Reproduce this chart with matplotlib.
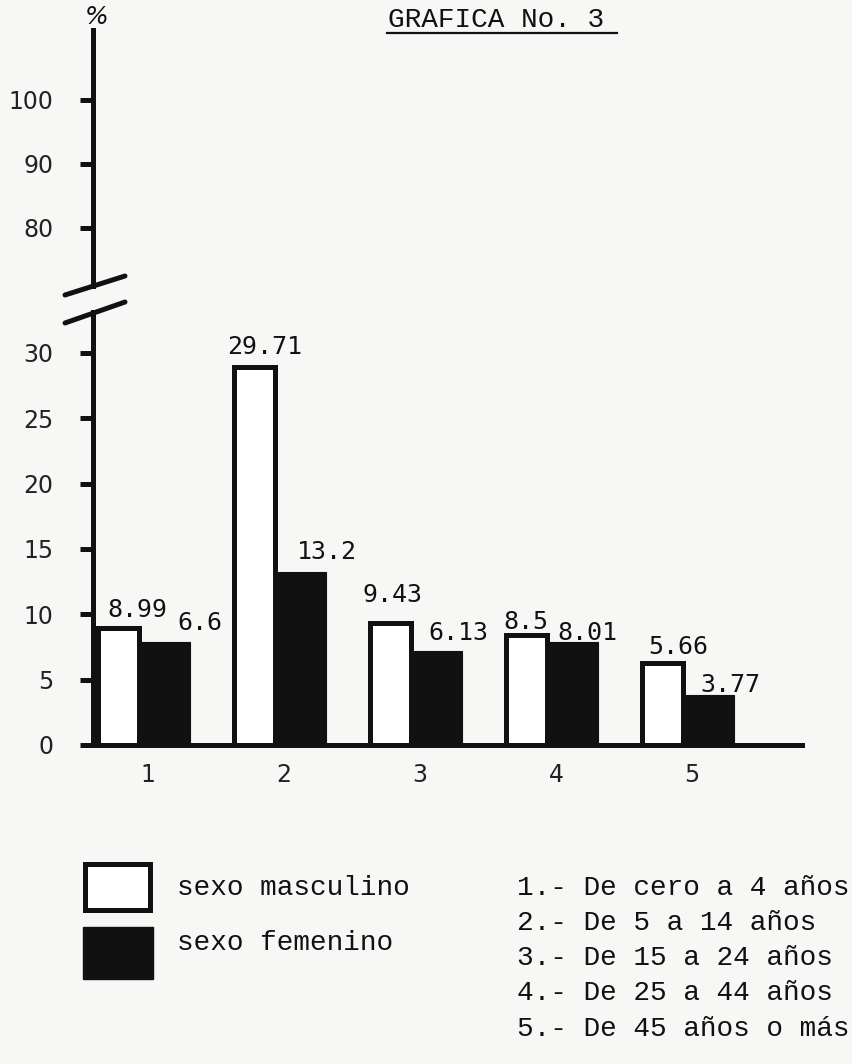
import matplotlib
matplotlib.use("Agg")
import matplotlib.pyplot as plt
from matplotlib.patches import Rectangle
from matplotlib.lines import Line2D

# bar heights as drawn on the chart, and the numbers typed above them
groups = [1, 2, 3, 4, 5]
masc = [8.99, 28.9, 9.37, 8.38, 6.31]
fem = [7.9, 13.2, 7.2, 7.9, 3.8]
masc_labels = ["8.99", "29.71", "9.43", "8.5", "5.66"]
fem_labels = ["6.6", "13.2", "6.13", "8.01", "3.77"]
low_ticks = [0, 5, 10, 15, 20, 25, 30]
high_ticks = [80, 90, 100]
legend_names = ["sexo masculino", "sexo femenino"]
age_groups = ["De cero a 4 años", "De 5 a 14 años", "De 15 a 24 años",
              "De 25 a 44 años", "De 45 años o más"]

# where the typed value sits relative to its bar (x in group units, y in %)
masc_off = [(-0.253, 1.34), (-0.371, 1.55), (-0.378, 2.11), (-0.341, 1.03), (-0.276, 1.19)]
fem_off = [(0.262, 1.43), (0.144, 1.57), (0.107, 1.37), (0.055, 0.67), (0.107, 0.79)]

W, H = 853, 1064
ink = "#111111"
paper = "#f7f7f5"
typewriter = "Liberation Mono"


def fx(px):
    return px / W


def fy(py):
    return 1 - py / H


fig = plt.figure(figsize=(W / 100, H / 100), dpi=100)
fig.patch.set_facecolor(paper)

# lower part of the broken axis: 0 - 30 %
ax = fig.add_axes([fx(93), fy(745), fx(802) - fx(93), fy(312) - fy(745)])
ax.set_facecolor("none")
ax.set_xlim(0.644, 5.857)
ax.set_ylim(0, 33.13)

ax.bar([g - 0.32 for g in groups], masc, width=0.30, align="edge",
       color="white", edgecolor=ink, linewidth=3.6, zorder=2)
ax.bar([g - 0.01 for g in groups], fem, width=0.37, align="edge",
       color=ink, edgecolor=ink, linewidth=0.8, zorder=3)

for g, v, lab, (dx, dy) in zip(groups, masc, masc_labels, masc_off):
    ax.text(g + dx, v + dy, lab, ha="left", va="center", fontsize=18,
            family="DejaVu Sans Mono", color=ink, zorder=4)
for g, v, lab, (dx, dy) in zip(groups, fem, fem_labels, fem_off):
    ax.text(g + dx, v + dy, lab, ha="left", va="center", fontsize=18,
            family="DejaVu Sans Mono", color=ink, zorder=4)

for s in ["top", "right"]:
    ax.spines[s].set_visible(False)
for s in ["left", "bottom"]:
    ax.spines[s].set_linewidth(3.6)
    ax.spines[s].set_color(ink)
    ax.spines[s].set_zorder(5)

ax.set_xticks([g + 0.05 for g in groups])
ax.set_xticklabels([str(g) for g in groups])
ax.set_yticks(low_ticks)
ax.set_yticklabels([str(t) for t in low_ticks])
ax.tick_params(axis="x", length=0, pad=13, labelsize=17, labelcolor="#222222")
ax.tick_params(axis="y", length=9.5, width=3.6, pad=19, labelsize=17,
               color=ink, labelcolor="#222222", direction="out")

# upper part of the broken axis: 80 - 100 %
ax2 = fig.add_axes([fx(93), fy(286), fx(802) - fx(93), fy(30) - fy(286)])
ax2.set_facecolor("none")
ax2.set_ylim(70.9, 110.9)
ax2.set_xlim(0.644, 5.857)
for s in ["top", "right", "bottom"]:
    ax2.spines[s].set_visible(False)
ax2.spines["left"].set_linewidth(3.6)
ax2.spines["left"].set_color(ink)
ax2.set_xticks([])
ax2.set_yticks(high_ticks)
ax2.set_yticklabels([str(t) for t in high_ticks])
ax2.tick_params(axis="y", length=9.5, width=3.6, pad=19, labelsize=17,
                color=ink, labelcolor="#222222", direction="out")

# break marks
for (x0, y0, x1, y1) in [(65, 295, 125, 276), (65, 323, 125, 302)]:
    fig.add_artist(Line2D([fx(x0), fx(x1)], [fy(y0), fy(y1)], color=ink,
                          linewidth=3.6, solid_capstyle="round"))

fig.text(fx(97), fy(17), "%", ha="center", va="center", fontsize=18,
         style="italic", color=ink)

# title, underlined
fig.text(fx(388), fy(20), "GRAFICA No. 3", ha="left", va="center",
         fontsize=20, family=typewriter, color=ink)
fig.add_artist(Line2D([fx(387), fx(617)], [fy(33), fy(33)], color=ink, linewidth=1.6))

# legend boxes
fig.add_artist(Rectangle((fx(85), fy(910)), fx(150) - fx(85), fy(864) - fy(910),
                         transform=fig.transFigure, facecolor="white",
                         edgecolor=ink, linewidth=3.6))
fig.add_artist(Rectangle((fx(83), fy(979)), fx(153) - fx(83), fy(927) - fy(979),
                         transform=fig.transFigure, facecolor=ink,
                         edgecolor=ink, linewidth=1))
for name, py in zip(legend_names, [888, 943]):
    fig.text(fx(177), fy(py), name, ha="left", va="center", fontsize=20,
             family=typewriter, color=ink)

for i, (name, py) in enumerate(zip(age_groups, [888, 923, 958, 993, 1029])):
    fig.text(fx(517), fy(py), f"{i + 1}.- {name}", ha="left", va="center",
             fontsize=20, family=typewriter, color=ink)

fig.savefig("out.png", dpi=100, facecolor=paper)
